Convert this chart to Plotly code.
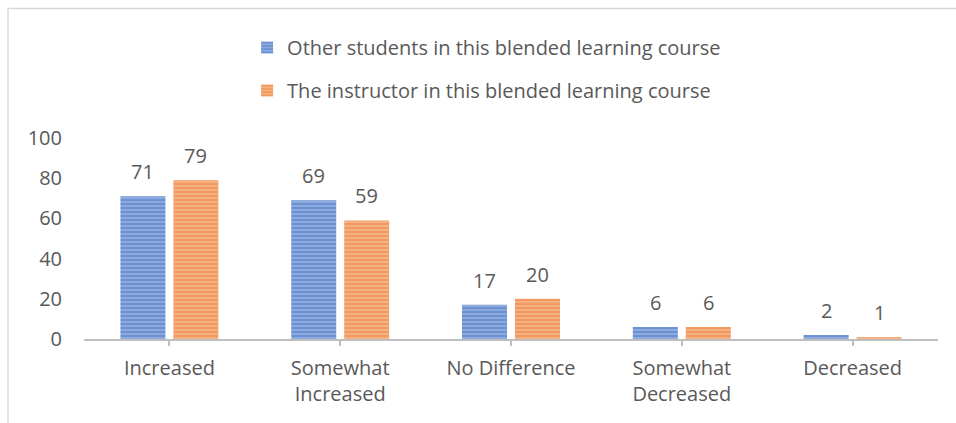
import plotly.graph_objects as go

categories = ["Increased", "Somewhat<br>Increased", "No Difference", "Somewhat<br>Decreased", "Decreased"]
other_students = [71, 69, 17, 6, 2]
instructor = [79, 59, 20, 6, 1]
series_names = ["Other students in this blended learning course",
                "The instructor in this blended learning course"]

W, H = 956, 423
ML, MR, MT, MB = 84, 18, 138, 84
FONT = "Open Sans"
FS = 20
TXT = "#595959"
BLUE, BLUE_L = "#4472C4", "#95b0e0"
ORANGE, ORANGE_L = "#ED7D31", "#f5b58a"

BARGAP = 0.38
fig = go.Figure()
for name, vals, c, cl in [(series_names[0], other_students, BLUE, BLUE_L),
                          (series_names[1], instructor, ORANGE, ORANGE_L)]:
    fig.add_trace(go.Bar(
        x=list(range(len(categories))), y=vals, name=name, legendgroup=name,
        marker=dict(color=cl, line=dict(width=0),
                    pattern=dict(shape="-", fgcolor=c, bgcolor=cl, size=4, solidity=0.6)),
    ))

# value labels above bars
plot_w = W - ML - MR
slot = (1 - BARGAP) * plot_w / len(categories) / 2
for k, vals in enumerate([other_students, instructor]):
    sh = (-0.5 + k) * slot
    for i, v in enumerate(vals):
        fig.add_annotation(x=i, y=v, xref="x", yref="y", text=str(v), showarrow=False,
                           xshift=sh, yshift=9, yanchor="bottom",
                           font=dict(family=FONT, size=FS, color=TXT))

# chart border (top and left)
plot_h = H - MT - MB
def px_x(p): return (p - ML) / plot_w
def px_y(p): return (H - MB - p) / plot_h
border = "#d9d9d9"
fig.add_shape(type="line", xref="paper", yref="paper", x0=px_x(8), x1=px_x(W), y0=px_y(8.5), y1=px_y(8.5),
              line=dict(color=border, width=1.5))
fig.add_shape(type="line", xref="paper", yref="paper", x0=px_x(8), x1=px_x(8), y0=px_y(8.5), y1=px_y(H),
              line=dict(color=border, width=1.5))

fig.update_layout(
    width=W, height=H, margin=dict(l=ML, r=MR, t=MT, b=MB, autoexpand=False),
    paper_bgcolor="white", plot_bgcolor="white",
    barmode="group", bargap=BARGAP, bargroupgap=0.15,
    font=dict(family=FONT, size=FS, color=TXT),
    showlegend=True,
    legend=dict(orientation="v", xref="container", yref="container", x=0.509, xanchor="center",
                y=1 - 28 / H, yanchor="top", tracegroupgap=14, font=dict(size=FS, color=TXT),
                itemsizing="constant"),
    xaxis=dict(tickmode="array", tickvals=list(range(len(categories))), ticktext=categories,
               range=[-0.5, len(categories) - 0.5], tickangle=0,
               showline=True, linecolor="#bfbfbf", linewidth=1.5,
               ticks="outside", tickson="boundaries", ticklen=5, tickcolor="#bfbfbf", tickwidth=1.5,
               ticklabelstandoff=5, showgrid=False, zeroline=False, automargin=False),
    yaxis=dict(range=[0, 100], tickvals=[0, 20, 40, 60, 80, 100], showgrid=False, zeroline=False,
               showline=False, ticks="outside", ticklen=17, tickcolor="rgba(0,0,0,0)", automargin=False),
)
fig.write_html("out.html", config={"displayModeBar": False},
               post_script="document.body.style.margin='0px';document.body.style.overflow='hidden';")
